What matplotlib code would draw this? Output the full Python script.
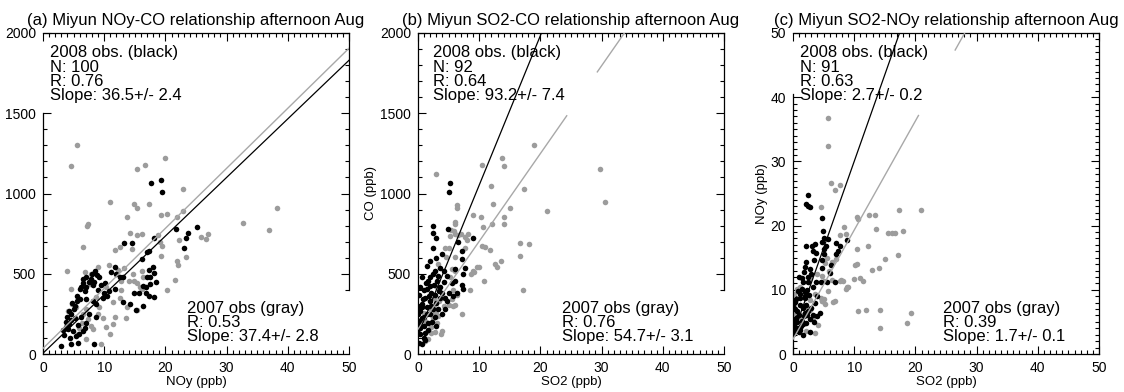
import matplotlib
matplotlib.use('Agg')
import matplotlib.pyplot as plt
from matplotlib.ticker import MultipleLocator, FixedLocator, NullFormatter
import numpy as np

plt.rcParams['font.family'] = ['Liberation Sans', 'DejaVu Sans']

# ---- panel (a): NOy vs CO ----
a_bk_x = [17.7, 19.2, 19.5, 13.3, 14.5, 17.3, 11.7, 11.1, 13.0, 17.4, 17.5,
          7.9, 8.4, 9.2, 6.0, 6.8, 8.1, 10.0, 6.0, 7.1, 11.7, 8.7, 5.2, 4.6, 5.2,
          4.3, 4.1, 4.9, 5.4, 6.5, 6.8, 7.1, 4.6, 3.0, 5.7, 8.4,
          13.0, 14.2, 14.9, 15.7, 15.2, 16.3, 16.8, 17.5, 17.3,
          21.7, 23.7, 25.1, 23.4, 23.0, 18.2, 17.0, 16.1, 17.9, 18.1, 17.0, 18.5, 16.4, 16.9, 18.1,
          4.5, 3.8, 4.0, 5.0, 5.5, 6.2, 6.5, 7.0, 7.5, 8.0, 8.8, 9.5, 9.0, 10.5, 10.8,
          9.8, 5.5, 4.8, 3.5, 3.7, 4.4, 5.8, 6.2, 7.5, 8.6, 7.0, 6.5, 8.5, 10.2, 12.5,
          12.0, 8.2, 3.2, 4.2, 5.9]
a_bk_y = [1067, 1085, 1012, 692, 690, 640, 540, 514, 477, 523, 481,
          467, 446, 477, 404, 394, 427, 383, 342, 342, 404, 310, 300, 248, 227,
          185, 154, 144, 113, 144, 165, 196, 60, 50, 71, 65,
          321, 310, 383, 377, 273, 300, 415, 435, 362,
          779, 752, 794, 721, 660, 721, 637, 590, 540, 502, 477, 446, 425, 383, 356,
          210, 170, 230, 280, 330, 420, 470, 480, 450, 500, 490, 430, 400, 360, 395,
          350, 360, 320, 120, 200, 100, 180, 230, 250, 230, 420, 440, 520, 440, 480,
          500, 330, 150, 270, 125]

a_gr_x = [4.6, 5.6, 15.4, 16.7, 19.9, 22.8, 11.0, 14.9, 15.3, 17.4, 7.4, 7.2,
          13.8, 14.2, 16.2, 15.4, 6.5, 11.8, 12.6, 14.6, 3.9, 6.8, 7.9, 9.0, 10.8,
          12.2, 13.2, 14.7, 16.2, 4.5, 7.6, 10.3, 12.8, 14.8, 15.3, 4.1, 5.4, 7.1,
          8.7, 11.4, 12.5, 6.4, 7.3, 7.9, 9.0, 9.8, 10.3, 11.4, 10.9, 11.8, 13.8,
          13.6, 15.3, 5.7, 7.0, 8.1, 9.5, 4.8, 5.9, 6.6, 9.1, 12.7, 14.0,
          19.2, 22.9, 21.9, 18.8, 19.1, 19.5, 22.2, 25.8, 26.7, 27.0, 32.6, 36.9,
          38.3, 19.3, 21.9, 22.0, 23.4, 21.5, 20.3, 16.3, 15.8, 16.2, 20.3]
a_gr_y = [1171, 1300, 1150, 1179, 1221, 1025, 946, 935, 910, 935, 810, 796,
          852, 752, 748, 742, 665, 650, 669, 654, 519, 508, 498, 544, 556,
          523, 535, 498, 515, 404, 435, 419, 398, 456, 440, 269, 290, 279,
          356, 321, 352, 196, 217, 175, 248, 227, 169, 185, 127, 231, 290,
          227, 273, 123, 92, 154, 65, 310, 165, 252, 290, 456, 456,
          869, 894, 852, 742, 696, 675, 710, 727, 717, 748, 815, 773,
          910, 613, 581, 556, 606, 460, 398, 477, 415, 404, 873]

# ---- panel (b): SO2 vs CO ----
b_bk_x = [5.2, 5.0, 2.5, 2.4, 2.9, 2.5, 4.9, 9.0, 6.5, 7.2, 7.2, 7.7, 7.4, 7.2,
          7.4, 6.0, 0.7, 3.6, 4.2, 3.3, 4.7, 3.1, 4.2, 1.7, 2.0, 1.4, 2.2, 2.8,
          3.6, 4.4, 5.0, 1.2, 2.0, 0.6, 1.4, 2.5, 0.3, 0.0, 0.6, 0.1, 0.9, 0.0,
          0.3, 0.9, 0.2, 1.2, 2.0, 2.8, 3.9, 4.4, 1.7, 0.0, 6.1,
          1.0, 1.8, 2.6, 3.0, 3.4, 1.5, 0.5, 2.2, 3.2, 0.8, 1.9, 2.4, 0.4, 1.1,
          0.6, 3.6, 4.0, 5.5, 2.7, 1.3, 0.2, 0.7, 1.6, 2.3, 3.0, 1.0, 0.3, 4.8,
          5.8, 6.4, 2.0, 3.0, 4.0, 1.5]
b_bk_y = [1067, 1012, 796, 754, 723, 660, 779, 723, 696, 644, 592, 535, 498, 431,
          404, 456, 481, 535, 515, 483, 483, 456, 446, 456, 425, 404, 383, 369,
          352, 348, 377, 352, 331, 310, 290, 279, 269, 300, 227, 196, 175, 154,
          123, 102, 71, 133, 248, 231, 248, 279, 196, 248, 529,
          400, 360, 430, 320, 390, 250, 210, 300, 280, 340, 480, 500, 160, 90,
          60, 420, 380, 440, 520, 440, 370, 290, 150, 200, 175, 230, 420, 330,
          360, 380, 580, 600, 620, 550]

b_gr_x = [2.9, 10.4, 13.7, 14.0, 11.9, 18.9, 17.4, 29.7, 30.5, 21.1, 15.1, 12.3,
          6.4, 6.4, 9.0, 10.3, 14.1, 12.1, 14.0, 10.7, 6.0, 5.9, 7.0, 8.1, 10.5,
          11.0, 11.7, 16.6, 18.1, 16.7, 13.6, 12.6, 12.9, 9.6, 9.0, 8.6, 10.8,
          8.5, 17.2, 5.8, 7.2, 5.7, 4.0, 2.2,
          6.0, 5.4, 5.3, 6.0, 6.6, 7.6, 8.0, 7.7, 4.4, 5.0, 6.1, 4.5, 3.3, 5.5,
          5.2, 6.1, 9.1, 10.0, 6.3, 5.5, 6.1, 5.0, 3.3, 3.9, 3.1, 2.8, 2.5, 2.0,
          2.2, 1.7, 2.8, 3.8, 1.7, 1.2, 0.9, 1.2, 0.0, 3.1, 3.3,
          2.5, 2.9, 2.0, 3.5, 4.2, 2.6, 3.0]
b_gr_y = [1119, 1179, 1221, 1171, 1046, 1300, 1029, 1152, 946, 894, 910, 935,
          931, 910, 869, 852, 852, 810, 810, 794, 810, 764, 748, 748, 675,
          665, 650, 690, 685, 613, 581, 560, 544, 544, 519, 498, 456,
          398, 398, 300, 252, 398, 144, 133,
          821, 773, 738, 748, 744, 727, 713, 660, 660, 660, 602, 602, 560, 529,
          481, 515, 508, 544, 367, 340, 304, 304, 279, 352, 415, 258, 227, 196,
          169, 144, 140, 127, 92, 81, 258, 206, 175, 196, 238,
          300, 320, 280, 330, 300, 350, 250]

# ---- panel (c): SO2 vs NOy ----
c_bk_x = [2.5, 2.5, 2.8, 2.2, 4.7, 4.9, 2.1, 3.1, 3.6, 3.2, 3.8, 4.7, 5.0, 5.8,
          5.4, 5.0, 7.1, 7.6, 7.3, 8.9, 7.0, 3.4, 4.7, 5.1, 2.0, 1.8, 2.8, 4.8,
          6.0, 6.2, 1.7, 2.5, 3.8, 4.6, 5.6, 6.9, 3.2, 2.0, 1.1, 0.3, 0.2, 0.1,
          0.6, 1.1, 2.0, 2.1, 1.6, 2.0, 2.5, 3.3, 3.9, 4.4, 2.8, 0.0, 0.1, 0.6,
          1.1, 1.7, 0.3, 0.0, 0.9, 2.7,
          1.5, 2.3, 1.2, 0.8, 1.9, 0.5, 1.4, 2.2, 1.0, 0.4, 1.8, 2.6, 3.0, 3.6,
          0.2, 1.3, 2.4, 3.0, 2.2, 1.5, 0.7, 0.9, 1.6, 2.3, 3.5, 4.0, 1.0, 0.5]
c_bk_y = [24.7, 23.1, 22.9, 23.3, 21.2, 19.1, 16.8, 16.8, 17.1, 16.1, 15.7, 17.5,
          18.0, 17.9, 16.8, 16.3, 17.3, 16.8, 16.1, 17.8, 15.6, 14.7, 14.7, 15.5,
          13.6, 12.7, 13.2, 13.4, 12.6, 13.8, 11.2, 11.2, 11.2, 11.2, 11.2, 11.2,
          10.4, 9.6, 9.4, 8.1, 8.0, 7.2, 6.7, 7.7, 8.7, 7.7, 7.2, 6.4, 6.7, 6.1,
          5.9, 6.4, 5.4, 5.1, 4.6, 4.1, 3.8, 4.6, 3.6, 3.1, 3.4, 3.4,
          10.2, 10.0, 8.8, 9.8, 9.0, 5.6, 5.2, 4.8, 6.1, 7.0, 5.9, 9.2, 7.2, 8.0,
          4.0, 4.4, 12.0, 12.4, 14.4, 11.8, 5.0, 4.0, 3.0, 6.0, 5.0, 9.0, 12.0, 8.6]

c_gr_x = [5.7, 5.8, 6.2, 7.7, 6.8, 4.5, 8.4, 7.7, 8.7, 10.4, 10.7, 12.4, 13.4,
          17.3, 20.9, 13.6, 15.5, 16.1, 16.6, 18.0, 17.1, 15.0, 10.4, 10.4, 10.2,
          12.2, 12.9, 14.1, 9.9, 10.9, 11.5, 8.9, 8.7, 7.8, 10.7, 12.0, 14.2,
          14.2, 18.7, 19.2, 6.9, 5.2, 4.8, 3.6,
          7.1, 5.5, 6.3, 5.2, 5.9, 4.7, 5.0, 3.9, 6.3, 7.7, 8.1, 9.0, 5.8, 6.6,
          5.0, 4.5, 3.6, 2.8, 2.2, 2.7, 1.7, 0.9, 0.1, 0.1, 1.4, 0.7, 2.2, 4.1,
          3.3, 4.7, 1.1, 0.6, 2.8]
c_gr_y = [36.7, 32.4, 26.6, 26.3, 25.5, 22.9, 19.8, 18.5, 18.7, 21.3, 21.0, 21.7,
          21.6, 22.4, 22.4, 19.5, 18.8, 18.8, 18.9, 19.1, 15.4, 14.8, 16.4, 14.0,
          13.8, 16.9, 13.1, 13.4, 11.7, 11.8, 11.4, 10.4, 10.2, 11.5, 6.7, 6.9,
          6.9, 4.0, 4.9, 6.4, 8.2, 7.8, 8.3, 3.3,
          14.8, 15.0, 14.3, 14.1, 13.0, 12.1, 11.3, 12.4, 11.5, 11.4, 11.3, 10.5,
          9.8, 8.1, 8.5, 8.8, 9.3, 8.4, 7.5, 6.8, 6.0, 5.8, 9.3, 6.4, 4.9, 4.1,
          3.6, 4.5, 5.6, 8.3, 10.4, 10.2, 11.8]

# fitted lines: (slope, intercept), black = 2008, gray = 2007
fit_bk = [(36.5, 5), (93.2, 120), (2.7, 3.0)]
fit_gr = [(37.4, 35), (54.7, 155), (1.7, 2.3)]
# x-range where the gray fit line is hidden behind the label box
gr_gap = [None, (24.4, 29.3), (20.5, 26.5)]

titles = ['(a) Miyun NOy-CO relationship afternoon Aug',
          '(b) Miyun SO2-CO relationship afternoon Aug',
          '(c) Miyun SO2-NOy relationship afternoon Aug']
xlabels = ['NOy (ppb)', 'SO2 (ppb)', 'SO2 (ppb)']
ylabels = ['', 'CO (ppb)', 'NOy (ppb)']
ymax = [2000, 2000, 50]
ymajor = [500, 500, 10]
yminor = [100, 100, 1]
top_text = ['2008 obs. (black)\nN: 100\nR: 0.76\nSlope: 36.5+/- 2.4',
            '2008 obs. (black)\nN: 92\nR: 0.64\nSlope: 93.2+/- 7.4',
            '2008 obs. (black)\nN: 91\nR: 0.63\nSlope: 2.7+/- 0.2']
bot_text = ['2007 obs (gray)\nR: 0.53\nSlope: 37.4+/- 2.8',
            '2007 obs (gray)\nR: 0.76\nSlope: 54.7+/- 3.1',
            '2007 obs (gray)\nR: 0.39\nSlope: 1.7+/- 0.1']
top_x = [0.023, 0.05, 0.023]
bot_x = [0.47, 0.47, 0.49]
# visible parts of the left / right frame (label boxes cover the rest)
left_top = [1500, 2000, 40.5]
right_bottom = [400, 400, 0]

data = [(a_bk_x, a_bk_y, a_gr_x, a_gr_y),
        (b_bk_x, b_bk_y, b_gr_x, b_gr_y),
        (c_bk_x, c_bk_y, c_gr_x, c_gr_y)]

GRAY = '#9c9c9c'
LGRAY = '#a8a8a8'

fig = plt.figure(figsize=(11.24, 3.92), dpi=100)
lefts = [43, 418, 793]
for i in range(3):
    ax = fig.add_axes([lefts[i] / 1124, 38 / 392, 306 / 1124, 321 / 392])
    bx, by, gx, gy = data[i]
    ax.scatter(gx, gy, s=16, color=GRAY, linewidths=0, zorder=2)
    ax.scatter(bx, by, s=16, color='black', linewidths=0, zorder=3)

    xs = np.linspace(0, 50, 501)
    m, c = fit_gr[i]
    yg = m * xs + c
    if gr_gap[i] is not None:
        yg = np.where((xs > gr_gap[i][0]) & (xs < gr_gap[i][1]), np.nan, yg)
    ax.plot(xs, yg, color=LGRAY, lw=1.0, zorder=4)
    m, c = fit_bk[i]
    ax.plot(xs, m * xs + c, color='black', lw=0.9, zorder=4)

    ax.set_xlim(0, 50)
    ax.set_ylim(0, ymax[i])
    ax.xaxis.set_major_locator(MultipleLocator(10))
    ax.xaxis.set_minor_locator(MultipleLocator(1))
    ymaj = np.arange(0, ymax[i] + 1e-9, ymajor[i])
    ymin = np.arange(0, ymax[i] + 1e-9, yminor[i])
    ax.yaxis.set_major_locator(FixedLocator(ymaj))
    ax.yaxis.set_minor_locator(FixedLocator(ymin[ymin <= left_top[i]]))
    ax.tick_params(which='both', direction='in', top=True, right=False,
                   width=0.8, labelsize=10)
    ax.tick_params(which='major', length=6, pad=5)
    ax.tick_params(which='minor', length=3)

    # right-hand ticks only where the frame is drawn
    sec = ax.secondary_yaxis('right')
    sec.yaxis.set_major_locator(FixedLocator(ymaj[ymaj >= right_bottom[i]]))
    sec.yaxis.set_minor_locator(FixedLocator(ymin[ymin >= right_bottom[i]]))
    sec.yaxis.set_major_formatter(NullFormatter())
    sec.tick_params(which='both', direction='in', width=0.8)
    sec.tick_params(which='major', length=6)
    sec.tick_params(which='minor', length=3)
    sec.spines['right'].set_visible(False)

    for sp in ax.spines.values():
        sp.set_linewidth(0.9)
    ax.spines['left'].set_bounds(0, left_top[i])
    ax.spines['right'].set_bounds(right_bottom[i], ymax[i])

    ax.set_title(titles[i], fontsize=12, pad=6)
    ax.set_xlabel(xlabels[i], fontsize=9.5, labelpad=1)
    if ylabels[i]:
        ax.set_ylabel(ylabels[i], fontsize=9.5, labelpad=2)

    ax.text(top_x[i], 0.962, top_text[i], transform=ax.transAxes, fontsize=12,
            va='top', ha='left', linespacing=0.95, zorder=5)
    ax.text(bot_x[i], 0.03, bot_text[i], transform=ax.transAxes, fontsize=12,
            va='bottom', ha='left', linespacing=0.95, zorder=5)

fig.savefig('out.png', dpi=100)
